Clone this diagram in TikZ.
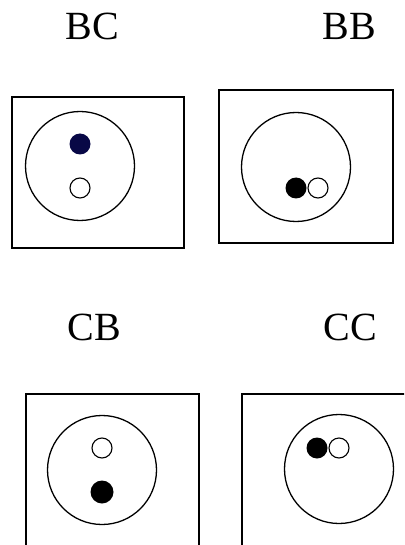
\documentclass[tikz,border=0pt]{standalone}
\usepackage{fontspec}
\setmainfont{Liberation Serif}
\definecolor{navydot}{RGB}{8,8,70}
\begin{document}
\begin{tikzpicture}[x=1pt,y=-1pt,
  frame/.style={draw=black,line width=1.6pt},
  disc/.style={draw=black,line width=1.3pt,circle,inner sep=0pt,minimum size=109pt},
  fullbead/.style={circle,inner sep=0pt,minimum size=21pt,fill=black},
  openbead/.style={circle,inner sep=0pt,minimum size=20pt,draw=black,line width=1.1pt,fill=white},
  caption/.style={anchor=base,font=\fontsize{40}{40}\selectfont,text=black}]
\useasboundingbox (0,0) rectangle (404,545);
\clip (0,0) rectangle (404,545);

% BC panel
\node[caption] (tBC) at (92,40) {BC};
\draw[frame] (12,97) rectangle (184,248);
\node[disc] (dBC) at (80,166) {};
\node[fullbead,fill=navydot] (fBC) at (80,144) {};
\node[openbead] (oBC) at (80,188) {};

% BB panel
\node[caption] (tBB) at (349,40) {BB};
\draw[frame] (219,90) rectangle (393,243);
\node[disc] (dBB) at (296,167) {};
\node[fullbead] (fBB) at (296,188) {};
\node[openbead] (oBB) at (318,188) {};

% CB panel
\node[caption] (tCB) at (94,340) {CB};
\draw[frame] (26,394) rectangle (199,570);
\node[disc] (dCB) at (102,470) {};
\node[openbead] (oCB) at (102,448) {};
\node[fullbead,minimum size=23pt] (fCB) at (102,492) {};

% CC panel
\node[caption] (tCC) at (350,340) {CC};
\draw[frame] (242,394) rectangle (420,570);
\node[disc] (dCC) at (339,469) {};
\node[fullbead] (fCC) at (317,448) {};
\node[openbead] (oCC) at (339,448) {};
\end{tikzpicture}
\end{document}
